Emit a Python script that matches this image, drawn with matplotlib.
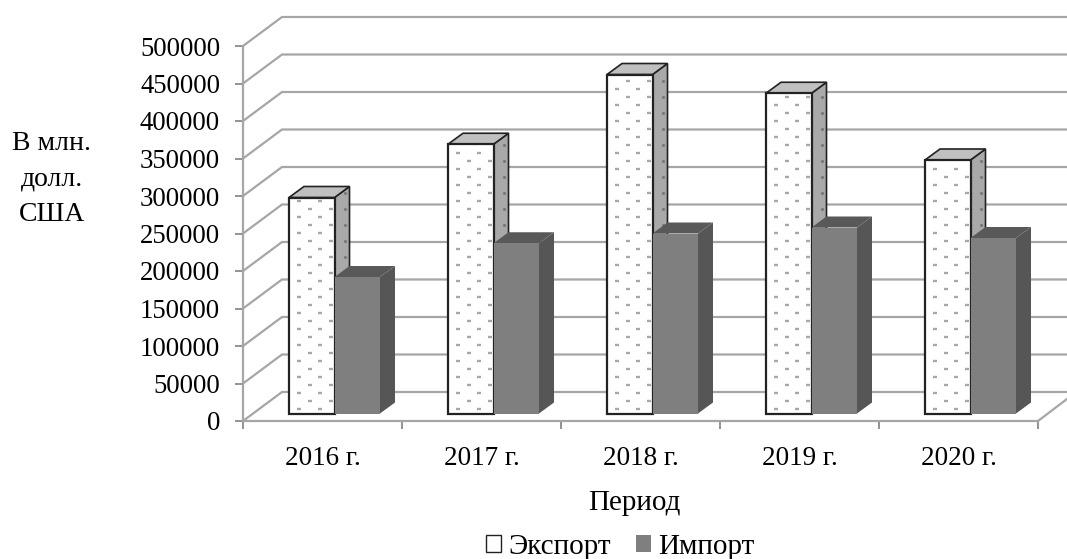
import numpy as np
import matplotlib
matplotlib.use('Agg')
import matplotlib.pyplot as plt
from matplotlib.patches import Patch, Polygon

years = ['2016 г.', '2017 г.', '2018 г.', '2019 г.', '2020 г.']
export = [288000, 359000, 452000, 427000, 338000]
imports = [182000, 227000, 240000, 248000, 234000]
y_ticks = list(range(0, 500001, 50000))

plt.rcParams['font.family'] = ['Liberation Serif', 'DejaVu Serif']

fig = plt.figure(figsize=(10.67, 5.59), dpi=100)
ax = fig.add_axes([243 / 1067, (559 - 421) / 559, 795 / 1067, 375 / 559])
ax.set_xlim(0, 5)
ax.set_ylim(0, 500000)

# pixel sizes turned into axis units
ux = 5 / 795
uy = 500000 / 375
wall_x, wall_y = 39 * ux, 29 * uy
gap_x, gap_y = 10 * ux, 7.5 * uy
depth_x, depth_y = 15 * ux, 11 * uy
bar_w = 45.5 * ux

grid_c = '#a6a6a6'
for v in y_ticks:
    ax.plot([0, wall_x, 5.3], [v, v + wall_y, v + wall_y], color=grid_c, lw=1.6,
            clip_on=False, zorder=1, solid_joinstyle='miter')
# floor edge on the right
ax.plot([5, 5 + 29 * ux], [0, 22 * uy], color=grid_c, lw=1.6, clip_on=False, zorder=1)


def stipple(x0, x1, y0, y1, slant=0.0):
    # staggered dots over one face, slant lifts them along a side face
    xs, ys = [], []
    for r, yy in enumerate(np.arange(y0 + 5 * uy, y1 - 2 * uy, 8 * uy)):
        start = x0 + (10 if r % 2 == 0 else 20.5) * ux
        for xx in np.arange(start, x1 - 2 * ux, 21 * ux):
            xs.append(xx)
            ys.append(yy + (xx - x0) * slant)
    return xs, ys


def box(x, h, front, top, side, edge, z):
    x0, y0 = x + gap_x, gap_y
    x1, y1 = x0 + bar_w, gap_y + h
    ax.add_patch(Polygon([(x1, y0), (x1 + depth_x, y0 + depth_y),
                          (x1 + depth_x, y1 + depth_y), (x1, y1)],
                         fc=side, ec=edge, lw=1.2, zorder=z))
    ax.add_patch(Polygon([(x0, y1), (x1, y1), (x1 + depth_x, y1 + depth_y),
                          (x0 + depth_x, y1 + depth_y)],
                         fc=top, ec=edge, lw=1.2, zorder=z))
    ax.bar(x0, h, bar_w, bottom=y0, align='edge', color=front, edgecolor=edge,
           lw=1.6 if edge != 'none' else 0, zorder=z + 0.1)
    return x0, x1, y0, y1


for i in range(len(years)):
    left = i + 36 * ux
    x0, x1, y0, y1 = box(left, export[i], 'white', '#c0c0c0', '#a9a9a9', '#222222', 3)
    xs, ys = stipple(x0, x1, y0, y1)
    ax.scatter(xs, ys, s=12, marker='_', color='#a8a8a8', linewidths=1.7, zorder=3.2)
    xs, ys = stipple(x1, x1 + depth_x, y0, y1, slant=depth_y / depth_x)
    ax.scatter(xs, ys, s=5, marker='o', color='#777777', linewidths=0, zorder=3.2)
    box(left + bar_w, imports[i], '#7f7f7f', '#595959', '#565656', 'none', 4)

for s in ['top', 'right']:
    ax.spines[s].set_visible(False)
for s in ['left', 'bottom']:
    ax.spines[s].set_color(grid_c)
    ax.spines[s].set_linewidth(1.6)
    ax.spines[s].set_zorder(2)

ax.set_yticks(y_ticks)
ax.set_xticks(range(6))
ax.set_xticklabels([])
ax.set_xticks(np.arange(len(years)) + 0.5, labels=years, minor=True)
ax.tick_params(axis='y', which='major', color='#808080', width=1.2, length=6, labelsize=19.3, pad=10.5)
ax.tick_params(axis='x', which='major', color='#808080', width=1.2, length=6)
ax.tick_params(axis='x', which='minor', length=0, labelsize=19.5, pad=18)
ax.patch.set_alpha(0)

fig.text(52 / 1067, 1 - 179 / 559, 'В млн.\nдолл.\nСША', ha='center', va='center',
         fontsize=20, linespacing=1.55)
fig.text(634 / 1067, 1 - 503 / 559, 'Период', ha='center', va='center', fontsize=21)

handles = [Patch(fc='white', ec='#222222', lw=1), Patch(fc='#7f7f7f', ec='none')]
fig.legend(handles, ['Экспорт', 'Импорт'], ncols=2, loc='center', bbox_to_anchor=(620 / 1067, 1 - 547 / 559),
           frameon=False, fontsize=21, handlelength=0.52, handleheight=0.52,
           handletextpad=0.25, columnspacing=0.85, borderpad=0)

fig.savefig('out.png', dpi=100)
